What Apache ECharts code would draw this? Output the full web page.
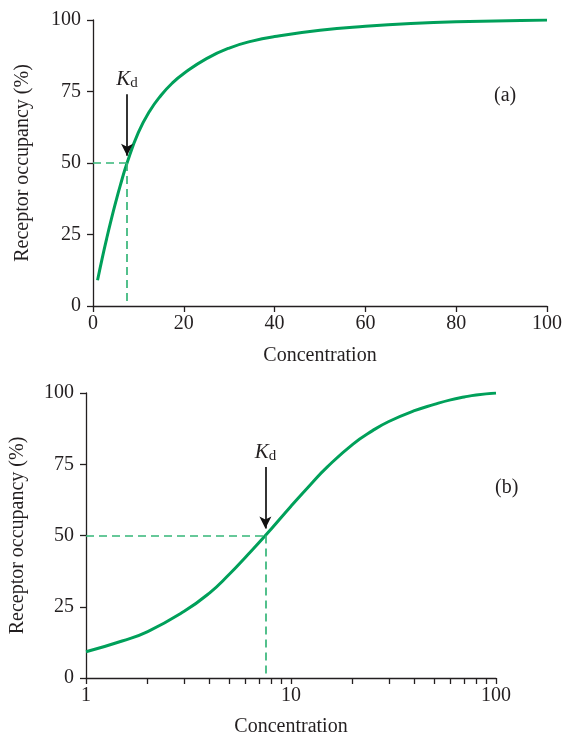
<!DOCTYPE html>
<html>
<head>
<meta charset="utf-8">
<script src="https://cdn.jsdelivr.net/npm/echarts@6/dist/echarts.min.js"></script>
<style>
html,body{margin:0;padding:0;background:#fff;}
#chart{width:565px;height:738px;}
</style>
</head>
<body>
<div id="chart"></div>
<script>
// Data
// Panel (a): linear concentration axis
var concentrationA = [1, 2, 3, 4, 5, 6, 7.5, 10, 12.5, 15, 17.5, 20, 25, 30, 35, 40, 50, 60, 70, 80, 100];
var occupancyA     = [9, 16.5, 23.5, 30.1, 36.3, 42.1, 50, 60.7, 68.2, 73.7, 78, 81.3, 86.5, 90.2, 92.6, 94.2, 96.4, 97.8, 98.8, 99.4, 100];
// Panel (b): logarithmic concentration axis
var concentrationB = [1, 1.5, 2, 3, 4, 5, 6, 7.5, 10, 12.5, 15, 20, 25, 30, 40, 50, 60, 70, 80, 100];
var occupancyB     = [9.2, 13, 16.3, 23.3, 29.8, 36.4, 42.4, 50, 60.3, 68, 74, 82, 86.8, 90, 93.8, 96, 97.6, 98.6, 99.3, 100];
var kd = 7.5;
var halfOccupancy = 50;
var arrowTop = 74;
var arrowTip = 52.5;
var linearTicks = [0, 20, 40, 60, 80, 100];
var yTicks = [0, 25, 50, 75, 100];
var logTickValues = [1, 2, 3, 4, 5, 6, 7, 8, 9, 10, 20, 30, 40, 50, 60, 70, 80, 90, 100];
var panelLabels = ['(a)', '(b)'];
var xName = 'Concentration';
var yName = 'Receptor occupancy (%)';

var FONT = 'Liberation Serif';
var GREEN = '#00A05A';
var DASH = '#35B678';
var INK = '#231F20';

function toPairs(xs, ys) { return xs.map(function (c, i) { return [c, ys[i]]; }); }

function axisBase() {
  return {
    axisLine: { show: true, onZero: false, lineStyle: { color: INK, width: 1.3 } },
    axisTick: { show: true, inside: false, length: 6, lineStyle: { color: INK, width: 1.3 } },
    axisLabel: { color: INK, fontFamily: FONT, fontSize: 20 },
    splitLine: { show: false },
    nameTextStyle: { color: INK, fontFamily: FONT, fontSize: 20 }
  };
}
function merge(a, b) { for (var k in b) a[k] = b[k]; return a; }

var kdLabel = {
  show: true,
  position: 'start',
  distance: 4,
  formatter: '{k|K}{d|d}',
  rich: {
    k: { fontFamily: FONT, fontStyle: 'italic', fontSize: 21, color: INK, verticalAlign: 'bottom', lineHeight: 24 },
    d: { fontFamily: FONT, fontSize: 15, color: INK, verticalAlign: 'bottom', lineHeight: 16 }
  }
};

function markLines(xMin) {
  var dashStyle = { color: DASH, type: [8, 5], width: 1.7 };
  return {
    silent: true,
    animation: false,
    data: [
      [{ coord: [xMin, halfOccupancy], symbol: 'none', lineStyle: dashStyle },
       { coord: [kd, halfOccupancy], symbol: 'none' }],
      [{ coord: [kd, halfOccupancy], symbol: 'none', lineStyle: dashStyle },
       { coord: [kd, 0], symbol: 'none' }],
      [{ coord: [kd, arrowTop], symbol: 'none', lineStyle: { color: '#111', type: 'solid', width: 1.7 }, label: kdLabel },
       { coord: [kd, arrowTip], symbol: 'arrow', symbolSize: [9, 12] }]
    ],
    label: { show: false }
  };
}

var option = {
  animation: false,
  backgroundColor: '#fff',
  grid: [
    { left: 93, top: 20, right: 17, height: 286 },
    { left: 86, top: 393, right: 69, height: 285 }
  ],
  xAxis: [
    merge(axisBase(), {
      gridIndex: 0, type: 'value', min: linearTicks[0], max: linearTicks[linearTicks.length - 1], interval: 20,
      name: xName, nameLocation: 'middle', nameGap: 40
    }),
    merge(axisBase(), {
      gridIndex: 1, type: 'log', logBase: 10, min: 1, max: 100,
      name: xName, nameLocation: 'middle', nameGap: 39,
      axisTick: { show: true, length: 6, customValues: logTickValues, lineStyle: { color: INK, width: 1.3 } }
    })
  ],
  yAxis: [
    merge(axisBase(), {
      gridIndex: 0, type: 'value', min: yTicks[0], max: yTicks[yTicks.length - 1], interval: 25,
      name: yName, nameLocation: 'middle', nameGap: 60
    }),
    merge(axisBase(), {
      gridIndex: 1, type: 'value', min: yTicks[0], max: yTicks[yTicks.length - 1], interval: 25,
      name: yName, nameLocation: 'middle', nameGap: 58
    })
  ],
  graphic: [
    { type: 'text', left: 494, top: 86, style: { text: panelLabels[0], fill: INK, font: '20px "Liberation Serif"' } },
    { type: 'text', left: 495, top: 478, style: { text: panelLabels[1], fill: INK, font: '20px "Liberation Serif"' } }
  ],
  series: [
    {
      type: 'line', xAxisIndex: 0, yAxisIndex: 0, data: toPairs(concentrationA, occupancyA),
      smooth: 0.5, showSymbol: false,
      lineStyle: { color: GREEN, width: 3 }, z: 3,
      markLine: markLines(0)
    },
    {
      type: 'line', xAxisIndex: 1, yAxisIndex: 1, data: toPairs(concentrationB, occupancyB),
      smooth: 0.5, showSymbol: false,
      lineStyle: { color: GREEN, width: 3 }, z: 3,
      markLine: markLines(1)
    }
  ]
};
option.yAxis.forEach(function (a) { a.axisLabel.margin = 12; });

var chart = echarts.init(document.getElementById('chart'), null, { renderer: 'canvas' });
chart.setOption(option);
</script>
</body>
</html>
